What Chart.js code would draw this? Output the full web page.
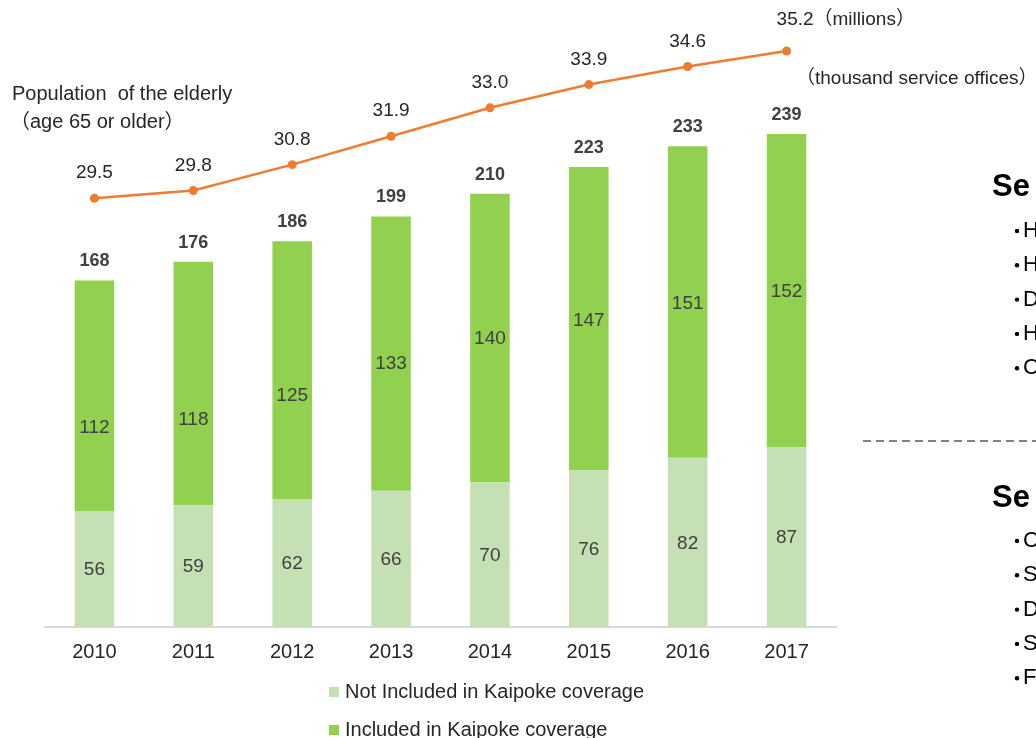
<!DOCTYPE html>
<html>
<head>
  <title>Service offices and elderly population</title>
  <style>
    body { margin: 0; background: #fff; }
    #wrap { width: 1036px; height: 738px; position: relative; }
  </style>
</head>
<body>
<div id="wrap">
  <canvas id="myChart"></canvas>
</div>
<script src="https://cdn.jsdelivr.net/npm/chart.js@4"></script>

<script>
  const years = ['2010', '2011', '2012', '2013', '2014', '2015', '2016', '2017'];
  const notIncluded = [56, 59, 62, 66, 70, 76, 82, 87];
  const included = [112, 118, 125, 133, 140, 147, 151, 152];
  const totals = [168, 176, 186, 199, 210, 223, 233, 239];
  const elderly = [29.5, 29.8, 30.8, 31.9, 33.0, 33.9, 34.6, 35.2];

  const seriesNames = ['Not Included in Kaipoke coverage', 'Included in Kaipoke coverage', 'Population of the elderly'];
  const sideGroups = [
    { head: 'Se', items: ['H', 'H', 'D', 'H', 'C'] },
    { head: 'Se', items: ['C', 'S', 'D', 'S', 'F'] }
  ];

  const FONT = "'Liberation Sans', Arial, 'Noto Sans CJK JP', sans-serif";
  const LIGHT = '#c5e0b4';
  const GREEN = '#92d050';
  const ORANGE = '#ed7d31';

  // the upper labels in the older bars sit a bit low in the original
  const includedNudge = [32, 36, 26, 10, 1, 2, 2, 1];

  const labelPlugin = {
    id: 'labels',
    afterDatasetsDraw(chart) {
      const ctx = chart.ctx;
      ctx.save();
      ctx.textAlign = 'center';
      ctx.textBaseline = 'middle';

      const low = chart.getDatasetMeta(0).data;
      const high = chart.getDatasetMeta(1).data;
      ctx.fillStyle = '#404040';
      ctx.font = '19px ' + FONT;
      low.forEach((bar, i) => {
        ctx.fillText(notIncluded[i], bar.x, (bar.y + bar.base) / 2 + 1);
      });
      high.forEach((bar, i) => {
        ctx.fillText(included[i], bar.x, (bar.y + bar.base) / 2 + includedNudge[i]);
      });
      ctx.font = 'bold 18px ' + FONT;
      high.forEach((bar, i) => {
        ctx.fillText(totals[i], bar.x, bar.y - 19);
      });

      const pts = chart.getDatasetMeta(2).data;
      ctx.fillStyle = '#262626';
      ctx.font = '19px ' + FONT;
      pts.forEach((p, i) => {
        if (i === pts.length - 1) {
          ctx.textAlign = 'left';
          ctx.fillText(elderly[i].toFixed(1) + '（millions）', p.x - 10, p.y - 31);
          ctx.textAlign = 'center';
        } else {
          ctx.fillText(elderly[i].toFixed(1), p.x, p.y - 25);
        }
      });
      ctx.restore();
    },
    afterDraw(chart) {
      const ctx = chart.ctx;
      ctx.save();
      ctx.fillStyle = '#262626';
      ctx.textBaseline = 'middle';
      ctx.textAlign = 'left';
      ctx.font = '20px ' + FONT;
      ctx.fillText('Population  of the elderly', 12, 94);
      ctx.fillText('（age 65 or older）', 10, 122);
      ctx.font = '19px ' + FONT;
      ctx.fillText('（thousand service offices）', 796, 79);

      // legend, one entry per row
      ctx.font = '20px ' + FONT;
      const rows = [692, 730];
      [0, 1].forEach((d, k) => {
        ctx.fillStyle = chart.data.datasets[d].backgroundColor;
        ctx.fillRect(329, rows[k] - 5, 10, 10);
        ctx.fillStyle = '#262626';
        ctx.fillText(chart.data.datasets[d].label, 345, rows[k]);
      });

      // side panel, cut off at the right edge
      const heads = [187, 498];
      const firstItem = [231, 541];
      sideGroups.forEach((g, k) => {
        ctx.fillStyle = '#000';
        ctx.font = 'bold 31px ' + FONT;
        ctx.fillText(g.head, 992, heads[k]);
        ctx.font = '22px ' + FONT;
        g.items.forEach((t, j) => {
          const y = firstItem[k] + j * 34.3;
          ctx.beginPath();
          ctx.arc(1017, y, 2.2, 0, Math.PI * 2);
          ctx.fill();
          ctx.fillText(t, 1023, y);
        });
      });

      ctx.strokeStyle = '#808080';
      ctx.lineWidth = 2;
      ctx.setLineDash([8, 5]);
      ctx.beginPath();
      ctx.moveTo(863, 441);
      ctx.lineTo(1036, 441);
      ctx.stroke();
      ctx.restore();
    }
  };

  new Chart(document.getElementById('myChart').getContext('2d'), {
    data: {
      labels: years,
      datasets: [
        {
          type: 'bar',
          label: seriesNames[0],
          data: notIncluded,
          backgroundColor: LIGHT,
          stack: 'offices',
          yAxisID: 'y',
          barPercentage: 0.8,
          categoryPercentage: 0.5,
          order: 2
        },
        {
          type: 'bar',
          label: seriesNames[1],
          data: included,
          backgroundColor: GREEN,
          stack: 'offices',
          yAxisID: 'y',
          barPercentage: 0.8,
          categoryPercentage: 0.5,
          order: 2
        },
        {
          type: 'line',
          label: seriesNames[2],
          data: elderly,
          borderColor: ORANGE,
          backgroundColor: ORANGE,
          borderWidth: 2.5,
          pointRadius: 4.5,
          pointBackgroundColor: ORANGE,
          pointBorderWidth: 0,
          tension: 0,
          yAxisID: 'y2',
          order: 1
        }
      ]
    },
    options: {
      responsive: true,
      maintainAspectRatio: false,
      animation: false,
      layout: { padding: { left: 45, right: 200, top: 20, bottom: 69 } },
      plugins: {
        legend: { display: false },
        tooltip: { enabled: false }
      },
      scales: {
        x: {
          stacked: true,
          grid: { display: false },
          border: { display: true, color: '#d9d9d9', width: 2 },
          ticks: { color: '#262626', font: { family: FONT, size: 20 }, padding: 5 }
        },
        y: {
          stacked: true,
          display: false,
          min: 0,
          max: 294.2
        },
        y2: {
          display: false,
          min: 12.9,
          max: 36.4
        }
      }
    },
    plugins: [labelPlugin]
  });
</script>
</body>
</html>
